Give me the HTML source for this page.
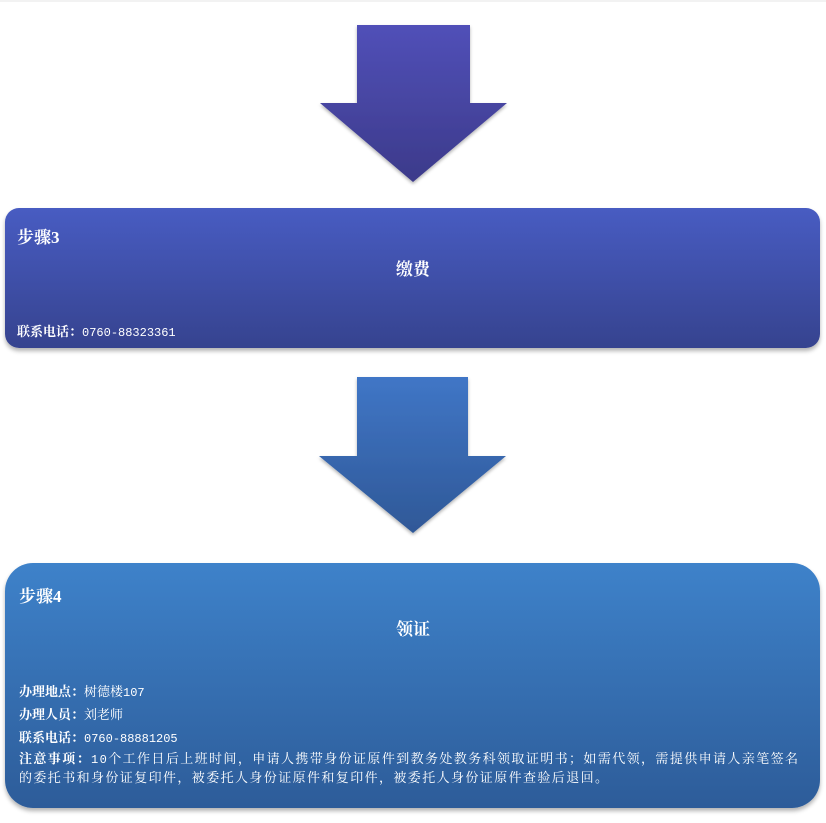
<!DOCTYPE html>
<html><head><meta charset="utf-8"><style>
body{margin:0;width:826px;height:823px;background:#fff;position:relative;overflow:hidden;font-family:"Liberation Serif","Noto Serif CJK SC",serif;color:#fff}
.box{position:absolute;left:5px;width:815px;box-shadow:0 3px 4px rgba(0,0,0,0.3)}
.t{position:absolute;white-space:nowrap}
b{font-weight:bold}
.m{font-family:"Liberation Mono","Noto Serif CJK SC",monospace;font-size:12px}
</style></head><body>
<div style="position:absolute;left:0;top:0;width:826px;height:2px;background:#f2f2f2"></div>
<svg style="position:absolute;left:0;top:0" width="826" height="823">
<defs>
<linearGradient id="a1" x1="0" y1="0" x2="0" y2="1"><stop offset="0" stop-color="#5150b8"/><stop offset="1" stop-color="#3c3a8a"/></linearGradient>
<linearGradient id="a2" x1="0" y1="0" x2="0" y2="1"><stop offset="0" stop-color="#4076c6"/><stop offset="1" stop-color="#2f5897"/></linearGradient>
<filter id="s"><feDropShadow dx="0" dy="2" stdDeviation="1.5" flood-opacity="0.3"/></filter>
</defs>
<polygon filter="url(#s)" fill="url(#a1)" points="357,25 470,25 470,103 507,103 413,182 320,103 357,103"/>
<polygon filter="url(#s)" fill="url(#a2)" points="357,377 468,377 468,456 506,456 413,533 319,456 357,456"/>
</svg>
<div class="box" style="top:208px;height:140px;border-radius:14px;background:linear-gradient(#485cc2,#36438f)"></div>
<div class="t" style="left:17px;top:223px;font-size:17px;font-weight:bold">步骤3</div>
<div class="t" style="left:0;width:826px;text-align:center;top:255px;font-size:17px;font-weight:bold">缴费</div>
<div class="t" style="left:17px;top:321px;font-size:13px"><b>联系电话：</b><span class="m">0760-88323361</span></div>
<div class="box" style="top:563px;height:245px;border-radius:28px;background:linear-gradient(#3e82ca,#2d5c99)"></div>
<div class="t" style="left:19px;top:582px;font-size:17px;font-weight:bold">步骤4</div>
<div class="t" style="left:0;width:826px;text-align:center;top:615px;font-size:17px;font-weight:bold">领证</div>
<div class="t" style="left:19px;top:681px;font-size:13px"><b>办理地点：</b>树德楼<span class="m">107</span></div>
<div class="t" style="left:19px;top:704px;font-size:13px"><b>办理人员：</b>刘老师</div>
<div class="t" style="left:19px;top:727px;font-size:13px"><b>联系电话：</b><span class="m">0760-88881205</span></div>
<div class="t" style="left:19px;top:750px;font-size:13px;line-height:17px;letter-spacing:1.4px"><b>注意事项：</b><span class="m">10</span>个工作日后上班时间，申请人携带身份证原件到教务处教务科领取证明书；如需代领，需提供申请人亲笔签名<br>的委托书和身份证复印件，被委托人身份证原件和复印件，被委托人身份证原件查验后退回。</div>
</body></html>
